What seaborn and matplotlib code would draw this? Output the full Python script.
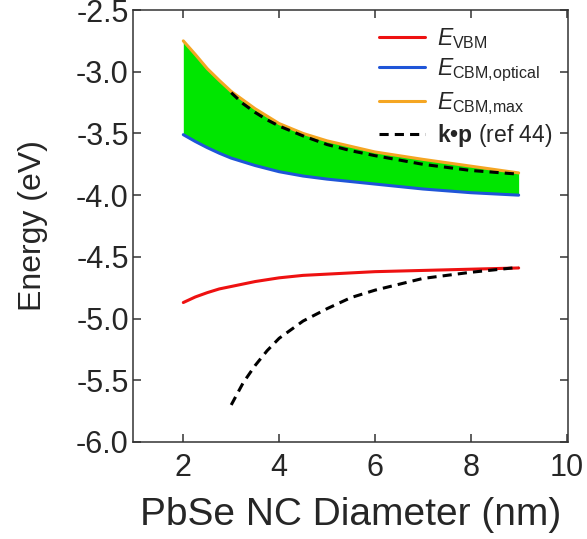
import numpy as np
import pandas as pd
import matplotlib
matplotlib.use('Agg')
import matplotlib.pyplot as plt
import seaborn as sns

# diameters (nm) and band edge energies (eV)
d = [2, 2.25, 2.5, 2.75, 3, 3.5, 4, 4.5, 5, 6, 7, 8, 9]
e_vbm = [-4.87, -4.825, -4.79, -4.76, -4.74, -4.70, -4.67, -4.65, -4.64, -4.62, -4.61, -4.60, -4.59]
e_cbm_opt = [-3.51, -3.565, -3.615, -3.66, -3.70, -3.76, -3.81, -3.845, -3.87, -3.91, -3.95, -3.98, -4.00]
e_cbm_max = [-2.75, -2.86, -2.975, -3.07, -3.16, -3.30, -3.42, -3.50, -3.56, -3.65, -3.71, -3.765, -3.82]

d_kp = [3, 3.25, 3.5, 3.75, 4, 4.5, 5, 5.5, 6, 7, 8, 9]
kp_cb = [-3.17, -3.26, -3.33, -3.39, -3.44, -3.52, -3.59, -3.64, -3.68, -3.75, -3.80, -3.83]
kp_vb = [-5.70, -5.52, -5.38, -5.26, -5.16, -5.02, -4.92, -4.83, -4.77, -4.675, -4.625, -4.585]

sns.set_style('ticks')
plt.rcParams['font.family'] = ['Liberation Sans', 'DejaVu Sans']
plt.rcParams['mathtext.fontset'] = 'custom'
plt.rcParams['mathtext.rm'] = 'Liberation Sans'
plt.rcParams['mathtext.it'] = 'Liberation Sans:italic'
plt.rcParams['mathtext.bf'] = 'Liberation Sans:bold'

fig = plt.figure(figsize=(5.87, 5.39), dpi=100)
ax = fig.add_axes([0.2266, 0.180, 0.7410, 0.8014])

ax.fill_between(d, e_cbm_opt, e_cbm_max, color='#00e600', lw=0, zorder=1)
sns.lineplot(x=d, y=e_vbm, ax=ax, color='#ee1111', lw=2.2, label=r'$E_{\rm VBM}$', zorder=3)
sns.lineplot(x=d, y=e_cbm_opt, ax=ax, color='#1f55d8', lw=2.2, label=r'$E_{\rm CBM{,}optical}$', zorder=3)
sns.lineplot(x=d, y=e_cbm_max, ax=ax, color='#f5a623', lw=2.2, label=r'$E_{\rm CBM{,}max}$', zorder=3)
sns.lineplot(x=d_kp, y=kp_cb, ax=ax, color='black', lw=2.2, linestyle=(0, (3, 2)),
             label='$\\mathbf{k\u2022p}$ (ref 44)', zorder=4)
sns.lineplot(x=d_kp, y=kp_vb, ax=ax, color='black', lw=2.2, linestyle=(0, (3, 2)), zorder=4)

ax.set_xlim(0.95, 10.03)
ax.set_ylim(-6.0, -2.5)
ax.set_xticks([2, 4, 6, 8, 10])
ax.set_yticks(np.arange(-6.0, -2.49, 0.5))
ax.yaxis.set_major_formatter(matplotlib.ticker.FormatStrFormatter('%.1f'))
ax.tick_params(direction='in', top=True, right=True, length=6, width=1.1,
               labelsize=22, color='#333333')
ax.tick_params(axis='x', pad=8)
ax.tick_params(axis='y', pad=3)
for s in ax.spines.values():
    s.set_linewidth(1.1)
    s.set_color('#333333')

ax.set_xlabel('PbSe NC Diameter (nm)', fontsize=28, labelpad=10)
ax.set_ylabel('Energy (eV)', fontsize=23, labelpad=20)

ax.legend(loc='upper right', frameon=False, fontsize=16.5, handlelength=2.0,
          handletextpad=0.5, labelspacing=0.25, borderaxespad=0.3)

fig.savefig('out.png', dpi=100)
